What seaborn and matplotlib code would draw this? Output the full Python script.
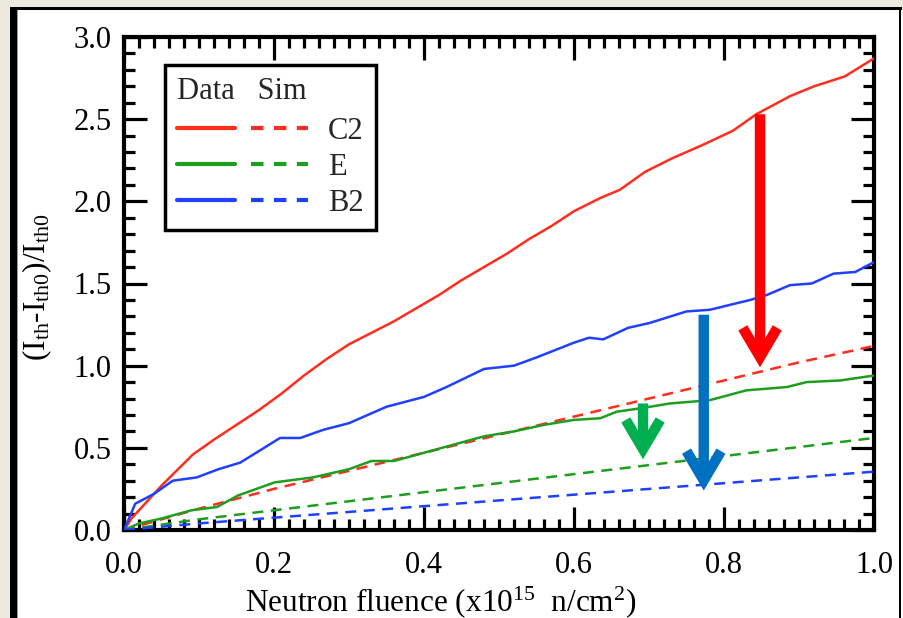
import numpy as np
import pandas as pd
import matplotlib
matplotlib.use("Agg")
import matplotlib.pyplot as plt
import seaborn as sns
from matplotlib.patches import Rectangle
from matplotlib.ticker import MultipleLocator
from matplotlib.legend_handler import HandlerTuple
from matplotlib.lines import Line2D

# ---------------- data ----------------
c2_data_x = [0, 0.01, 0.05, 0.092, 0.12, 0.15, 0.18, 0.21, 0.24, 0.27, 0.30, 0.33, 0.36,
             0.39, 0.42, 0.45, 0.48, 0.51, 0.54, 0.57, 0.60, 0.635, 0.661, 0.695, 0.73,
             0.77, 0.812, 0.843, 0.888, 0.92, 0.961, 1.0]
c2_data_y = [0, 0.07, 0.27, 0.46, 0.55, 0.64, 0.73, 0.83, 0.94, 1.04, 1.13, 1.20, 1.27,
             1.35, 1.43, 1.52, 1.60, 1.68, 1.77, 1.85, 1.94, 2.02, 2.07, 2.18, 2.26,
             2.34, 2.43, 2.53, 2.64, 2.70, 2.76, 2.87]

e_data_x = [0, 0.02, 0.05, 0.09, 0.124, 0.152, 0.201, 0.252, 0.30, 0.33, 0.36, 0.40,
            0.44, 0.48, 0.52, 0.56, 0.60, 0.635, 0.657, 0.688, 0.728, 0.781, 0.83,
            0.884, 0.91, 0.955, 1.0]
e_data_y = [0, 0.04, 0.07, 0.12, 0.14, 0.21, 0.29, 0.32, 0.37, 0.42, 0.42, 0.47,
            0.52, 0.57, 0.60, 0.64, 0.67, 0.68, 0.72, 0.74, 0.77, 0.79, 0.85,
            0.87, 0.90, 0.91, 0.94]

b2_data_x = [0, 0.015, 0.04, 0.065, 0.097, 0.126, 0.155, 0.208, 0.235, 0.266, 0.30,
             0.35, 0.40, 0.43, 0.48, 0.52, 0.55, 0.60, 0.62, 0.639, 0.672, 0.701,
             0.75, 0.781, 0.835, 0.857, 0.888, 0.917, 0.946, 0.975, 1.0]
b2_data_y = [0, 0.16, 0.22, 0.30, 0.32, 0.37, 0.41, 0.56, 0.56, 0.61, 0.65,
             0.75, 0.81, 0.87, 0.98, 1.00, 1.05, 1.14, 1.17, 1.16, 1.23, 1.26,
             1.33, 1.34, 1.40, 1.43, 1.49, 1.50, 1.56, 1.57, 1.63]

sim_x = [0, 0.1, 0.2, 0.3, 0.4, 0.5, 0.6, 0.7, 0.8, 0.9, 1.0]
c2_sim_y = [0, 0.13, 0.25, 0.36, 0.47, 0.58, 0.69, 0.80, 0.91, 1.02, 1.12]
e_sim_y = [0, 0.065, 0.12, 0.175, 0.23, 0.285, 0.34, 0.395, 0.45, 0.505, 0.56]
b2_sim_y = [0, 0.04, 0.075, 0.11, 0.145, 0.18, 0.215, 0.25, 0.285, 0.32, 0.355]

series_names = ["C2", "E", "B2"]
line_colors = {"C2": "#FF2D1E", "E": "#1E9E1E", "B2": "#2040FF"}

# arrows: (x, y_start, y_end, colour)
arrow_x = [0.848, 0.692, 0.773]
arrow_y_start = [2.53, 0.77, 1.31]
arrow_y_end = [0.99, 0.43, 0.24]
arrow_colors = ["#FF0000", "#00B050", "#0070C0"]

x_ticks = [0.0, 0.2, 0.4, 0.6, 0.8, 1.0]
y_ticks = [0.0, 0.5, 1.0, 1.5, 2.0, 2.5, 3.0]

# ---------------- style ----------------
sns.set_theme(style="ticks")
plt.rcParams["font.family"] = ["Liberation Serif", "DejaVu Serif"]
plt.rcParams["mathtext.fontset"] = "custom"
plt.rcParams["mathtext.rm"] = "Liberation Serif"
plt.rcParams["mathtext.it"] = "Liberation Serif:italic"

W, H = 904, 618
fig = plt.figure(figsize=(W / 100, H / 100), dpi=100)
fig.patch.set_facecolor("#ECE9DF")

# slide-like frame
fig.add_artist(Rectangle((10 / W, 0), (902 - 10) / W, (H - 7) / H,
                         transform=fig.transFigure, facecolor="black",
                         edgecolor="none", zorder=-20))
fig.add_artist(Rectangle((17 / W, 0), (899 - 17) / W, (H - 10) / H,
                         transform=fig.transFigure, facecolor="white",
                         edgecolor="none", zorder=-19))
fig.add_artist(Rectangle((901 / W, 0), (W - 901) / W, (H - 10) / H,
                         transform=fig.transFigure, facecolor="white",
                         edgecolor="none", zorder=-19))
fig.add_artist(Rectangle((17 / W, 0), 1.2 / W, (H - 10) / H,
                         transform=fig.transFigure, facecolor="#9a9a9a",
                         edgecolor="none", zorder=-18))

ax = fig.add_axes([124 / W, (H - 530) / H, 750 / W, 493 / H])
ax.set_facecolor("white")

data_sets = {
    "C2": (c2_data_x, c2_data_y, c2_sim_y),
    "E": (e_data_x, e_data_y, e_sim_y),
    "B2": (b2_data_x, b2_data_y, b2_sim_y),
}
for name in series_names:
    dx, dy, sy = data_sets[name]
    col = line_colors[name]
    df_d = pd.DataFrame({"x": dx, "y": dy})
    df_s = pd.DataFrame({"x": sim_x, "y": sy})
    sns.lineplot(data=df_d, x="x", y="y", ax=ax, color=col, lw=1.8,
                 sort=False, estimator=None, zorder=3)
    sns.lineplot(data=df_s, x="x", y="y", ax=ax, color=col, lw=1.8,
                 sort=False, estimator=None, dashes=False, zorder=3)
    ax.lines[-1].set_dashes((4.4, 3.0))

for xa, ys, ye, col in zip(arrow_x, arrow_y_start, arrow_y_end, arrow_colors):
    ax.annotate("", xy=(xa, ye), xytext=(xa, ys),
                arrowprops=dict(arrowstyle="->,head_length=1.05,head_width=0.62",
                                lw=7.5, color=col, shrinkA=0, shrinkB=0,
                                mutation_scale=20, joinstyle="miter",
                                capstyle="butt"),
                zorder=5)

ax.set_xlim(0, 1.0)
ax.set_ylim(0, 3.0)
ax.set_xticks(x_ticks)
ax.set_yticks(y_ticks)
ax.set_xticklabels([f"{v:.1f}" for v in x_ticks])
ax.set_yticklabels([f"{v:.1f}" for v in y_ticks])
ax.xaxis.set_minor_locator(MultipleLocator(0.02))
ax.yaxis.set_minor_locator(MultipleLocator(0.1))
ax.tick_params(which="both", direction="in", top=True, right=True,
               color="black", width=2.3)
ax.tick_params(which="major", length=16.5, labelsize=22, labelcolor="black")
ax.tick_params(which="minor", length=8)
ax.tick_params(axis="x", which="major", pad=15)
ax.tick_params(axis="y", which="major", pad=9)
for sp in ax.spines.values():
    sp.set_linewidth(3)
    sp.set_color("black")
    sp.set_visible(True)

ax.set_xlabel(r"Neutron fluence (x10$^{15}$  n/cm$^{2}$)", fontsize=22.5, color="black")
ax.set_ylabel(r"(I$_{\mathrm{th}}$-I$_{\mathrm{th0}}$)/I$_{\mathrm{th0}}$",
              fontsize=22.5, color="black")
ax.xaxis.set_label_coords((441 - 124) / 750, (530 - 584) / 493)
ax.yaxis.set_label_coords((54 - 124) / 750, (530 - 287) / 493)

handles = []
for name in series_names:
    col = line_colors[name]
    h_solid = Line2D([], [], color=col, lw=3)
    h_dash = Line2D([], [], color=col, lw=3, dashes=(3.0, 2.5))
    handles.append((h_solid, h_dash))
leg = ax.legend(handles, series_names, title="Data   Sim", title_fontsize=22,
                fontsize=22, loc="upper left",
                bbox_to_anchor=((165 - 124) / 750, (530 - 65) / 493),
                borderaxespad=0, frameon=True, fancybox=False,
                edgecolor="black", framealpha=1, handlelength=4.28,
                handletextpad=0.65, borderpad=0.4, labelspacing=0.22,
                alignment="left",
                handler_map={tuple: HandlerTuple(ndivide=None, pad=0.52)})
leg._legend_box.sep = leg._legend_box.sep + 3
leg.get_frame().set_linewidth(2.5)
leg.set_zorder(10)

fig.savefig("out.png", dpi=100, facecolor=fig.get_facecolor())
